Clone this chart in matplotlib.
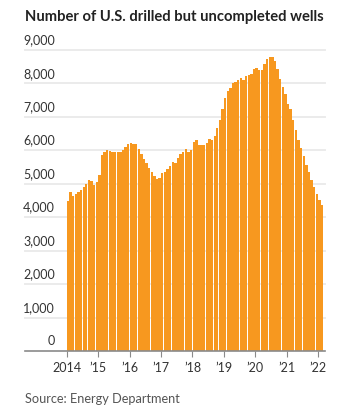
import matplotlib.pyplot as plt
from matplotlib.transforms import blended_transform_factory

# monthly counts, Jan 2014 - Feb 2022
wells_2014 = [4490, 4750, 4620, 4700, 4750, 4820, 4910, 5000, 5110, 5080, 4970, 5050]
wells_2015 = [5270, 5870, 5950, 6020, 5990, 5960, 5960, 5960, 5960, 6020, 6100, 6200]
wells_2016 = [6220, 6200, 6200, 6050, 5900, 5750, 5620, 5480, 5350, 5240, 5150, 5180]
wells_2017 = [5330, 5360, 5450, 5540, 5660, 5630, 5780, 5900, 5960, 6050, 5960, 6020]
wells_2018 = [6260, 6320, 6170, 6170, 6170, 6230, 6350, 6320, 6440, 6680, 6920, 7250]
wells_2019 = [7570, 7780, 7870, 8000, 8050, 8110, 8170, 8110, 8230, 8260, 8290, 8440]
wells_2020 = [8470, 8410, 8410, 8590, 8740, 8800, 8800, 8680, 8440, 8140, 7900, 7690]
wells_2021 = [7400, 7250, 6920, 6620, 6320, 6080, 5840, 5570, 5360, 5120, 4910, 4700]
wells_2022 = [4520, 4370]
wells = (wells_2014 + wells_2015 + wells_2016 + wells_2017 + wells_2018
         + wells_2019 + wells_2020 + wells_2021 + wells_2022)

year_labels = ['2014', '\u201915', '\u201916', '\u201917', '\u201918',
               '\u201919', '\u201920', '\u201921', '\u201922']
y_ticks = [0, 1000, 2000, 3000, 4000, 5000, 6000, 7000, 8000, 9000]

plt.rcParams['font.family'] = ['Lato', 'DejaVu Sans']

fig = plt.figure(figsize=(3.47, 4.09), dpi=100)
ax = fig.add_axes([25/347, 58/409, 300/347, 301/409])

x = list(range(len(wells)))
ax.bar(x, wells, width=0.9, color='#F7981F', linewidth=0, zorder=2)

ax.set_xlim(-16.4, 98.1)
ax.set_ylim(0, 9000)

# gridlines + labels above them
trans = blended_transform_factory(ax.transData, ax.transData)
for v in y_ticks[1:]:
    ax.axhline(v, color='#ebebeb', linewidth=1.4, zorder=1, clip_on=False)
for v in y_ticks:
    ax.text(-5.0, v + 110, f'{v:,}', transform=trans, ha='right', va='bottom',
            fontsize=9, color='#333333')

# baseline
ax.axhline(0, color='#8a8a8a', linewidth=1.2, zorder=3, clip_on=False)

for s in ax.spines.values():
    s.set_visible(False)
ax.set_yticks([])
ax.set_xticks([-0.5 + 12*k for k in range(len(year_labels))])
ax.set_xticklabels(year_labels, fontsize=9, color='#333333')
ax.tick_params(axis='x', length=4, width=0.8, color='#8a8a8a', pad=4)

fig.text(25/347, 1 - 17/409, 'Number of U.S. drilled but uncompleted wells',
         fontsize=10.6, fontweight='bold', color='#222222', va='center', ha='left')
fig.text(25/347, 1 - 399/409, 'Source: Energy Department',
         fontsize=9.2, color='#555555', va='center', ha='left')

fig.savefig('out.png', dpi=100)
